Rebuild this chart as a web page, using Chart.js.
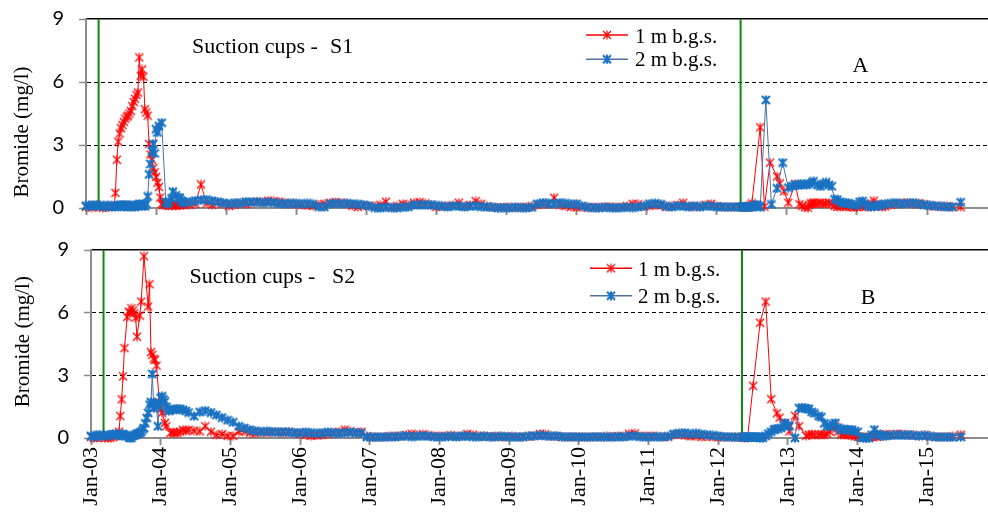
<!DOCTYPE html>
<html>
<head>
<meta charset="utf-8">
<script src="https://cdn.jsdelivr.net/npm/chart.js@4.4.1/dist/chart.umd.min.js"></script>
<style>
  html, body { margin: 0; padding: 0; background: #fff; }
  #wrap { position: relative; width: 988px; height: 516px; overflow: hidden; }
  canvas { position: absolute; left: 0; }
  #panelA { top: 0; }
  #panelB { top: 230px; }
</style>
</head>
<body>
<div id="wrap">
  <canvas id="panelA" width="988" height="230"></canvas>
  <canvas id="panelB" width="988" height="286"></canvas>
</div>
<script>
// ---- data ---------------------------------------------------------------
const _ = null; // no sample on that date

const xTickLabels = ['Jan-03', 'Jan-04', 'Jan-05', 'Jan-06', 'Jan-07', 'Jan-08', 'Jan-09',
                     'Jan-10', 'Jan-11', 'Jan-12', 'Jan-13', 'Jan-14', 'Jan-15'];

// tracer application dates (decimal years)
const applicationDates = [2003.18, 2012.34];

// sampling dates (decimal years)
const sampleDates = [
  2003.00, 2003.04, 2003.08, 2003.12, 2003.16, 2003.20, 2003.24, 2003.28, 2003.32, 2003.36, 2003.40,
  2003.42, 2003.44, 2003.46, 2003.48, 2003.50, 2003.52, 2003.54, 2003.56, 2003.58, 2003.60,
  2003.62, 2003.64, 2003.66, 2003.68, 2003.70, 2003.72, 2003.74, 2003.76, 2003.78, 2003.80,
  2003.82, 2003.84, 2003.86, 2003.88, 2003.90, 2003.92, 2003.94, 2003.96, 2003.98,
  2004.00, 2004.02, 2004.04, 2004.06, 2004.08, 2004.10, 2004.12, 2004.14, 2004.16, 2004.18,
  2004.20, 2004.22, 2004.24, 2004.26, 2004.28, 2004.30, 2004.32, 2004.34, 2004.36, 2004.38, 2004.40,
  2004.48, 2004.56, 2004.64, 2004.72, 2004.80, 2004.88, 2004.96,
  2005.04, 2005.12, 2005.20, 2005.28, 2005.36, 2005.44, 2005.52, 2005.60, 2005.68, 2005.76, 2005.84, 2005.92,
  2006.00, 2006.08, 2006.16, 2006.24, 2006.32, 2006.40, 2006.48, 2006.56, 2006.64, 2006.72, 2006.80, 2006.88, 2006.96,
  2007.04, 2007.12, 2007.20, 2007.28, 2007.36, 2007.44, 2007.52, 2007.60, 2007.68, 2007.76, 2007.84, 2007.92,
  2008.00, 2008.08, 2008.16, 2008.24, 2008.32, 2008.40, 2008.48, 2008.56, 2008.64, 2008.72, 2008.80, 2008.88, 2008.96,
  2009.04, 2009.12, 2009.20, 2009.28, 2009.36, 2009.44, 2009.52, 2009.60, 2009.68, 2009.76, 2009.84, 2009.92,
  2010.00, 2010.08, 2010.16, 2010.24, 2010.32, 2010.40, 2010.48, 2010.56, 2010.64, 2010.72, 2010.80, 2010.88, 2010.96,
  2011.04, 2011.12, 2011.20, 2011.28, 2011.36, 2011.44, 2011.52, 2011.60, 2011.68, 2011.76, 2011.84, 2011.92,
  2012.00, 2012.08, 2012.16, 2012.24, 2012.32,
  2012.36, 2012.38, 2012.40, 2012.42, 2012.44, 2012.46, 2012.48, 2012.50, 2012.52, 2012.54,
  2012.56, 2012.58, 2012.60, 2012.62, 2012.64, 2012.66, 2012.68, 2012.70, 2012.72, 2012.74,
  2012.76, 2012.78, 2012.80, 2012.82, 2012.84, 2012.86, 2012.88, 2012.90, 2012.92, 2012.94, 2012.96, 2012.98,
  2013.00, 2013.02, 2013.04, 2013.06, 2013.08, 2013.10, 2013.12, 2013.14, 2013.16, 2013.18,
  2013.20, 2013.22, 2013.24, 2013.26, 2013.28, 2013.30, 2013.32, 2013.34, 2013.36, 2013.38, 2013.40,
  2013.44, 2013.48, 2013.52, 2013.56, 2013.60, 2013.64, 2013.68, 2013.72, 2013.76, 2013.80, 2013.84, 2013.88, 2013.92, 2013.96,
  2014.00, 2014.04, 2014.08, 2014.12, 2014.16, 2014.20, 2014.24, 2014.28, 2014.32, 2014.36, 2014.40,
  2014.48, 2014.56, 2014.64, 2014.72, 2014.80, 2014.88, 2014.96, 2015.04, 2015.12, 2015.20, 2015.28, 2015.36, 2015.48
];

// Bromide (mg/l), suction cups S1, 1 m below ground surface
const s1At1m = [
  0.05, 0.10, 0.02, 0.08, 0.12, 0.04, 0.02, 0.06, 0.03, 0.10, 0.08,
  0.72, 2.30, 3.16, 3.55, 3.80, 3.95, 4.10, 4.25, 4.35, 4.40,
  4.50, 4.62, 4.85, 5.05, 5.20, 5.38, 5.50, 7.17, 6.30, 6.60,
  6.25, 4.70, 4.55, 4.40, 3.05, 2.55, 2.30, 1.90, 1.70,
  1.48, 1.20, 1.00, 0.50, 0.19, 0.12, 0.22, 0.18, 0.15, 0.10,
  0.18, 0.12, 0.20, 0.15, 0.10, 0.20, 0.15, 0.12, 0.18, 0.20, 0.15,
  0.15, 0.20, 1.12, 0.22, 0.15, 0.25, 0.20,
  0.10, 0.15, 0.22, 0.18, 0.25, 0.30, 0.28, 0.35, 0.32, 0.30, 0.25, 0.20,
  0.18, 0.15, 0.12, 0.10, 0.15, 0.20, 0.25, 0.28, 0.25, 0.20, 0.10, 0.05, 0.12,
  0.10, 0.08, 0.15, 0.30, 0.05, 0.10, 0.20, 0.15, 0.25, 0.28, 0.22, 0.15,
  0.05, 0.08, 0.10, 0.12, 0.25, 0.10, 0.15, 0.33, 0.20, 0.08, 0.03, 0.02, 0.05,
  0.03, 0.02, 0.04, 0.05, 0.08, 0.15, 0.20, 0.18, 0.49, 0.15, 0.10, 0.05,
  0.03, 0.05, 0.02, 0.04, 0.03, 0.05, 0.06, 0.04, 0.05, 0.10, 0.20, 0.18, 0.08,
  0.10, 0.15, 0.12, 0.05, 0.08, 0.15, 0.25, 0.10, 0.05, 0.08, 0.15, 0.20,
  0.10, 0.05, 0.04, 0.05, 0.03,
  0.05, 0.03, 0.06, 0.04, 0.05, 0.08, 0.12, 0.22, _, _,
  _, _, _, 3.84, _, _, 0.06, _, _, _,
  2.16, _, _, _, _, 1.50, _, 1.17, _, _, 0.80, _,
  _, 0.25, _, _, _, _, 1.15, _, _, 0.18,
  _, 0.10, _, 0.03, _, 0.02, 0.15, 0.22, 0.20, 0.25, 0.22,
  0.22, 0.25, 0.20, 0.22, 0.25, 0.20, 0.10, 0.05, 0.08, 0.10, 0.05, 0.10, 0.05, 0.03,
  0.05, 0.10, 0.08, 0.05, 0.15, 0.20, 0.35, 0.20, 0.10, 0.05, 0.08,
  0.15, 0.20, 0.22, 0.25, 0.20, 0.22, 0.18, 0.10, 0.08, 0.05, 0.10, 0.05, 0.05
];

// Bromide (mg/l), suction cups S1, 2 m below ground surface
const s1At2m = [
  0.10, 0.12, 0.08, 0.15, 0.10, 0.12, 0.10, 0.05, 0.12, 0.10, 0.08,
  0.05, 0.10, 0.08, 0.12, 0.15, 0.10, 0.05, 0.12, 0.15, 0.10,
  0.05, 0.08, 0.12, 0.10, 0.05, 0.10, 0.15, 0.20, 0.15, 0.10,
  0.12, 0.08, 0.20, 0.55, 1.60, 2.10, 2.70, 3.05, 2.60,
  3.75, 3.60, 3.90, _, 4.06, _, _, 0.30, 0.20, 0.28,
  _, 0.45, 0.78, _, 0.60, _, 0.50, 0.46, 0.35, 0.30, 0.25,
  0.30, 0.35, 0.38, 0.40, 0.35, 0.30, 0.25,
  0.20, 0.25, 0.22, 0.30, 0.28, 0.30, 0.25, 0.28, 0.25, 0.22, 0.20, 0.22,
  0.22, 0.20, 0.22, 0.18, 0.06, 0.05, 0.20, 0.22, 0.20, 0.22, 0.20, 0.18, 0.15,
  0.10, 0.02, 0.00, 0.03, 0.02, 0.00, 0.03, 0.05, 0.15, 0.14, 0.16, 0.15,
  0.12, 0.08, 0.05, 0.10, 0.08, 0.05, 0.08, 0.10, 0.06, 0.05, 0.03, 0.00, 0.02,
  0.00, 0.03, 0.02, 0.00, 0.03, 0.20, 0.25, 0.22, 0.20, 0.25, 0.22, 0.18,
  0.20, 0.10, 0.03, 0.02, 0.00, 0.03, 0.02, 0.00, 0.02, 0.03, 0.02, 0.05, 0.10,
  0.20, 0.22, 0.18, 0.08, 0.05, 0.10, 0.08, 0.05, 0.10, 0.05, 0.10, 0.08,
  0.05, 0.06, 0.04, 0.05, 0.06,
  0.04, 0.06, 0.05, 0.03, 0.06, 0.05, 0.04, 0.06, 0.08, 0.10,
  0.12, 0.15, 0.08, 0.05, _, _, _, 5.14, _, _,
  _, 0.17, _, _, _, 0.94, _, _, _, 2.16, _, _,
  _, 0.97, _, _, 1.05, _, 1.10, _, 1.08, _,
  1.13, _, 1.12, _, 1.10, _, 1.15, _, 1.20, 1.27, _,
  1.10, 1.03, 1.15, 1.22, 1.10, 1.03, 0.41, 0.40, 0.30, 0.25, 0.22, 0.22, 0.18, 0.15,
  0.14, 0.30, 0.33, 0.20, 0.10, 0.05, 0.08, 0.12, 0.10, 0.15, 0.20,
  0.22, 0.25, 0.20, 0.22, 0.25, 0.20, 0.15, 0.12, 0.10, 0.08, 0.05, 0.06, 0.27
];

// Bromide (mg/l), suction cups S2, 1 m below ground surface
const s2At1m = [
  0.05, 0.02, 0.00, 0.03, 0.05, 0.02, 0.00, 0.02, 0.05, 0.10, 0.30,
  1.05, 1.85, 2.95, 4.30, _, 5.80, 6.05, 6.00, 6.21, 6.10,
  5.97, 5.76, 4.85, _, 5.86, 6.53, _, 8.70, _, _,
  6.29, 7.36, 4.11, 3.98, 3.80, 3.74, 3.47, _, 1.72,
  1.40, 1.20, _, 0.72, 0.56, _, _, 0.24, _, 0.28,
  0.24, _, 0.26, _, 0.30, _, 0.39, _, 0.35, _, 0.39,
  0.35, 0.32, 0.56, 0.30, 0.15, 0.19, 0.10,
  0.10, 0.30, 0.32, 0.25, 0.22, 0.28, 0.25, 0.30, 0.28, 0.25, 0.30, 0.25,
  0.20, 0.15, 0.10, 0.12, 0.15, 0.20, 0.25, 0.30, 0.40, 0.32, 0.25, 0.30, 0.10,
  0.05, 0.03, 0.05, 0.08, 0.10, 0.08, 0.15, 0.20, 0.15, 0.18, 0.12, 0.10,
  0.08, 0.10, 0.12, 0.10, 0.08, 0.20, 0.15, 0.10, 0.08, 0.06, 0.10, 0.05, 0.06,
  0.08, 0.05, 0.06, 0.08, 0.10, 0.20, 0.18, 0.10, 0.08, 0.05, 0.06, 0.05,
  0.06, 0.05, 0.04, 0.06, 0.05, 0.08, 0.06, 0.10, 0.08, 0.20, 0.22, 0.10, 0.08,
  0.10, 0.08, 0.05, 0.06, 0.15, 0.20, 0.12, 0.08, 0.10, 0.05, 0.08, 0.05,
  0.04, 0.05, 0.03, 0.04, 0.03,
  0.03, 0.02, 0.04, 0.02, _, _, _, 2.50, _, _,
  _, _, 5.52, _, _, _, 6.53, _, _, _,
  1.86, _, _, _, 1.18, _, 0.98, _, _, 0.72, _, _,
  _, 0.32, _, _, _, 1.07, _, _, 0.56, _,
  _, _, _, 0.11, _, 0.16, _, 0.18, _, 0.15, _,
  0.16, 0.18, 0.15, 0.20, 0.30, 0.45, 0.56, 0.30, 0.16, 0.18, 0.15, 0.16, 0.12, 0.08,
  0.06, 0.05, 0.03, 0.05, 0.02, 0.05, 0.10, 0.05, 0.08, 0.15, 0.18,
  0.15, 0.20, 0.18, 0.15, 0.12, 0.10, 0.12, 0.08, 0.05, 0.06, 0.05, 0.08, 0.16
];

// Bromide (mg/l), suction cups S2, 2 m below ground surface
const s2At2m = [
  0.10, 0.05, 0.12, 0.15, 0.08, 0.10, 0.15, 0.12, 0.18, 0.20, 0.15,
  0.15, 0.10, 0.20, 0.15, 0.10, _, 0.05, 0.00, 0.02, 0.10,
  0.13, 0.15, 0.20, 0.22, 0.24, 0.30, 0.40, 0.48, 0.70, 0.96,
  1.20, 1.60, 1.72, 3.06, 1.43, 1.67, 1.55, 0.56, 1.60,
  1.91, 2.00, 1.85, 1.75, 1.50, 1.36, 1.30, _, _, 1.36,
  1.37, _, 1.38, _, 1.40, _, 1.35, _, 1.30, _, 1.22,
  1.05, 1.24, 1.31, 1.22, 1.10, 0.98, 0.85,
  0.75, 0.56, 0.48, 0.40, 0.35, 0.30, 0.32, 0.30, 0.28, 0.30, 0.28, 0.25,
  0.25, 0.28, 0.25, 0.22, 0.25, 0.28, 0.25, 0.22, 0.25, 0.28, 0.25, 0.22, 0.05,
  0.03, 0.05, 0.04, 0.06, 0.05, 0.08, 0.10, 0.06, 0.08, 0.10, 0.08, 0.06,
  0.05, 0.06, 0.08, 0.05, 0.10, 0.08, 0.06, 0.05, 0.08, 0.06, 0.05, 0.08, 0.06,
  0.05, 0.04, 0.06, 0.08, 0.10, 0.12, 0.10, 0.08, 0.10, 0.06, 0.05, 0.06,
  0.05, 0.04, 0.05, 0.06, 0.05, 0.04, 0.05, 0.06, 0.05, 0.08, 0.10, 0.06, 0.05,
  0.05, 0.06, 0.05, 0.08, 0.20, 0.22, 0.25, 0.20, 0.22, 0.18, 0.15, 0.12,
  0.10, 0.06, 0.05, 0.04, 0.03,
  0.04, 0.05, 0.03, 0.05, 0.04, 0.03, 0.05, 0.04, 0.03, 0.05,
  0.04, 0.03, 0.02, 0.03, 0.02, _, 0.10, _, 0.21, _,
  0.30, _, 0.40, 0.43, _, 0.45, _, 0.48, _, 0.60, 0.72, _,
  0.60, 0.56, _, _, _, 0.00, _, _, 1.43, _,
  1.45, _, 1.43, _, 1.40, 1.38, _, 1.25, _, 1.18, _,
  1.05, 1.00, 0.70, 0.56, 0.56, 0.65, 0.72, 0.50, 0.40, 0.42, 0.40, 0.38, 0.40, 0.32,
  0.30, 0.05, 0.00, 0.02, 0.00, 0.15, 0.40, 0.20, 0.15, 0.11, 0.10,
  0.12, 0.15, 0.12, 0.15, 0.12, 0.10, 0.12, 0.08, 0.05, 0.04, 0.05, 0.03, 0.05
];

// ---- drawing ------------------------------------------------------------
const RED = '#ff0000';
const BLUE_LINE = '#4a72a8';
const BLUE_MARK = '#1a72c2';
const AXIS_GREY = '#8c8c8c';
const SERIF = '"Liberation Serif", "Times New Roman", serif';

function makeMarker(color, lineWidth, size) {
  const c = document.createElement('canvas');
  c.width = size; c.height = size;
  const g = c.getContext('2d');
  const m = size / 2, r = size / 2 - 1;
  g.strokeStyle = color;
  g.lineWidth = lineWidth;
  g.beginPath();
  g.moveTo(m - r, m - r); g.lineTo(m + r, m + r);
  g.moveTo(m - r, m + r); g.lineTo(m + r, m - r);
  g.moveTo(m, m - r - 0.5); g.lineTo(m, m + r + 0.5);
  g.stroke();
  return c;
}

function seriesPoints(values) {
  if (values.length !== sampleDates.length) {
    throw new Error('series length ' + values.length + ' vs dates ' + sampleDates.length);
  }
  const pts = [];
  values.forEach((v, i) => { if (v !== null) pts.push({ x: sampleDates[i], y: v }); });
  return pts;
}

const panelDecor = {
  id: 'panelDecor',
  afterDraw(chart, args, o) {
    const ctx = chart.ctx;
    ctx.save();
    ctx.fillStyle = '#000';
    ctx.font = '22px ' + SERIF;
    ctx.textBaseline = 'alphabetic';
    ctx.textAlign = 'left';
    ctx.fillText(o.caption, o.captionX, o.captionY);
    ctx.fillText(o.site, o.siteX, o.captionY);
    ctx.textAlign = 'center';
    ctx.fillText(o.letter, o.letterX, o.letterY);

    // legend
    ctx.font = '21px ' + SERIF;
    ctx.textAlign = 'left';
    const entries = chart.data.datasets.filter(d => d.label);
    entries.forEach((ds, i) => {
      const y = o.legendRows[i];
      ctx.strokeStyle = ds.borderColor;
      ctx.lineWidth = 1.6;
      ctx.beginPath();
      ctx.moveTo(o.legendX1, y);
      ctx.lineTo(o.legendX2, y);
      ctx.stroke();
      const mk = ds.pointStyle;
      const mx = (o.legendX1 + o.legendX2) / 2;
      ctx.drawImage(mk, mx - mk.width / 2, y - mk.height / 2);
      ctx.fillText(ds.label, o.legendTextX, o.legendText[i]);
    });

    // value axis title
    ctx.translate(o.titleX, o.titleY);
    ctx.rotate(-Math.PI / 2);
    ctx.textAlign = 'center';
    ctx.textBaseline = 'middle';
    ctx.font = '21px ' + SERIF;
    ctx.fillText('Bromide (mg/l)', 0, 0);
    ctx.restore();
  }
};

function buildChart(canvasId, p) {
  const redMark = makeMarker(RED, 1.2, 10);
  const blueMark = makeMarker(BLUE_MARK, 2.2, 10);
  const datasets = [
    { label: '1 m b.g.s.', data: seriesPoints(p.depth1), borderColor: RED, borderWidth: 1,
      pointStyle: redMark, pointRadius: 5, pointHoverRadius: 5, clip: false, order: 2, spanGaps: true },
    { label: '2 m b.g.s.', data: seriesPoints(p.depth2), borderColor: BLUE_LINE, borderWidth: 1,
      pointStyle: blueMark, pointRadius: 5, pointHoverRadius: 5, clip: false, order: 1, spanGaps: true }
  ];
  applicationDates.forEach(d => datasets.push({
    data: [{ x: d, y: 0 }, { x: d, y: 9 }], borderColor: '#0a8a0a', borderWidth: 2,
    pointRadius: 0, pointHoverRadius: 0, order: 3
  }));

  return new Chart(document.getElementById(canvasId), {
    type: 'line',
    data: { datasets },
    plugins: [panelDecor],
    options: {
      responsive: false,
      maintainAspectRatio: false,
      animation: false,
      devicePixelRatio: 1,
      layout: { autoPadding: false, padding: { top: p.top, left: 0, right: 0, bottom: 0 } },
      events: [],
      plugins: {
        legend: { display: false },
        tooltip: { enabled: false },
        panelDecor: p.decor
      },
      scales: {
        x: {
          type: 'linear', position: 'bottom', min: 2003, max: 2015.87,
          grid: { drawOnChartArea: false, drawTicks: true, tickLength: 7, tickColor: AXIS_GREY, tickWidth: 2 },
          border: { display: true, color: AXIS_GREY, width: 2 },
          ticks: {
            display: p.showDates, stepSize: 1, includeBounds: false, autoSkip: false,
            maxRotation: 90, minRotation: 90, padding: 2, color: '#000',
            font: { family: SERIF, size: 22 },
            callback: v => xTickLabels[Math.round(v) - 2003]
          },
          afterFit: s => { s.height = p.xHeight; s.paddingLeft = 0; s.paddingRight = 0; }
        },
        xTop: {
          type: 'linear', position: 'top', min: 2003, max: 2015.87,
          grid: { display: false },
          border: { display: true, color: '#000', width: 1.6 },
          ticks: { display: false },
          afterFit: s => { s.height = 0; s.paddingLeft = 0; s.paddingRight = 0; }
        },
        y: {
          min: 0, max: 9,
          grid: {
            color: c => (c.tick && (c.tick.value === 0 || c.tick.value === 9)) ? 'rgba(0,0,0,0)' : '#000',
            lineWidth: 1, drawTicks: true, tickLength: 7, tickColor: AXIS_GREY, tickWidth: 1.5
          },
          border: { display: true, color: AXIS_GREY, width: 2, dash: [4, 3] },
          ticks: { stepSize: 3, padding: 15, color: '#000', font: { family: 'Lato', size: 20 } },
          afterFit: s => { s.width = p.yWidth; s.paddingTop = 0; s.paddingBottom = 0; }
        }
      }
    }
  });
}

function drawAll() {
  buildChart('panelA', {
    depth1: s1At1m, depth2: s1At2m, top: 19, yWidth: 86, xHeight: 22, showDates: false,
    decor: {
      caption: 'Suction cups -', site: 'S1', captionX: 192, siteX: 330, captionY: 52.5,
      letter: 'A', letterX: 860.5, letterY: 71.5,
      legendX1: 586, legendX2: 628, legendTextX: 635, legendRows: [35, 59.3], legendText: [42.7, 66],
      titleX: 22, titleY: 132
    }
  });
  buildChart('panelB', {
    depth1: s2At1m, depth2: s2At2m, top: 20, yWidth: 91, xHeight: 78, showDates: true,
    decor: {
      caption: 'Suction cups -', site: 'S2', captionX: 189.5, siteX: 332, captionY: 53.3,
      letter: 'B', letterX: 868, letterY: 74,
      legendX1: 590, legendX2: 632, legendTextX: 638, legendRows: [38.3, 65.7], legendText: [45.7, 73.3],
      titleX: 23.5, titleY: 111.7
    }
  });
}

Promise.all([
  document.fonts.load('22px "Liberation Serif"'),
  document.fonts.load('20px Lato')
]).then(drawAll, drawAll);
</script>
</body>
</html>
